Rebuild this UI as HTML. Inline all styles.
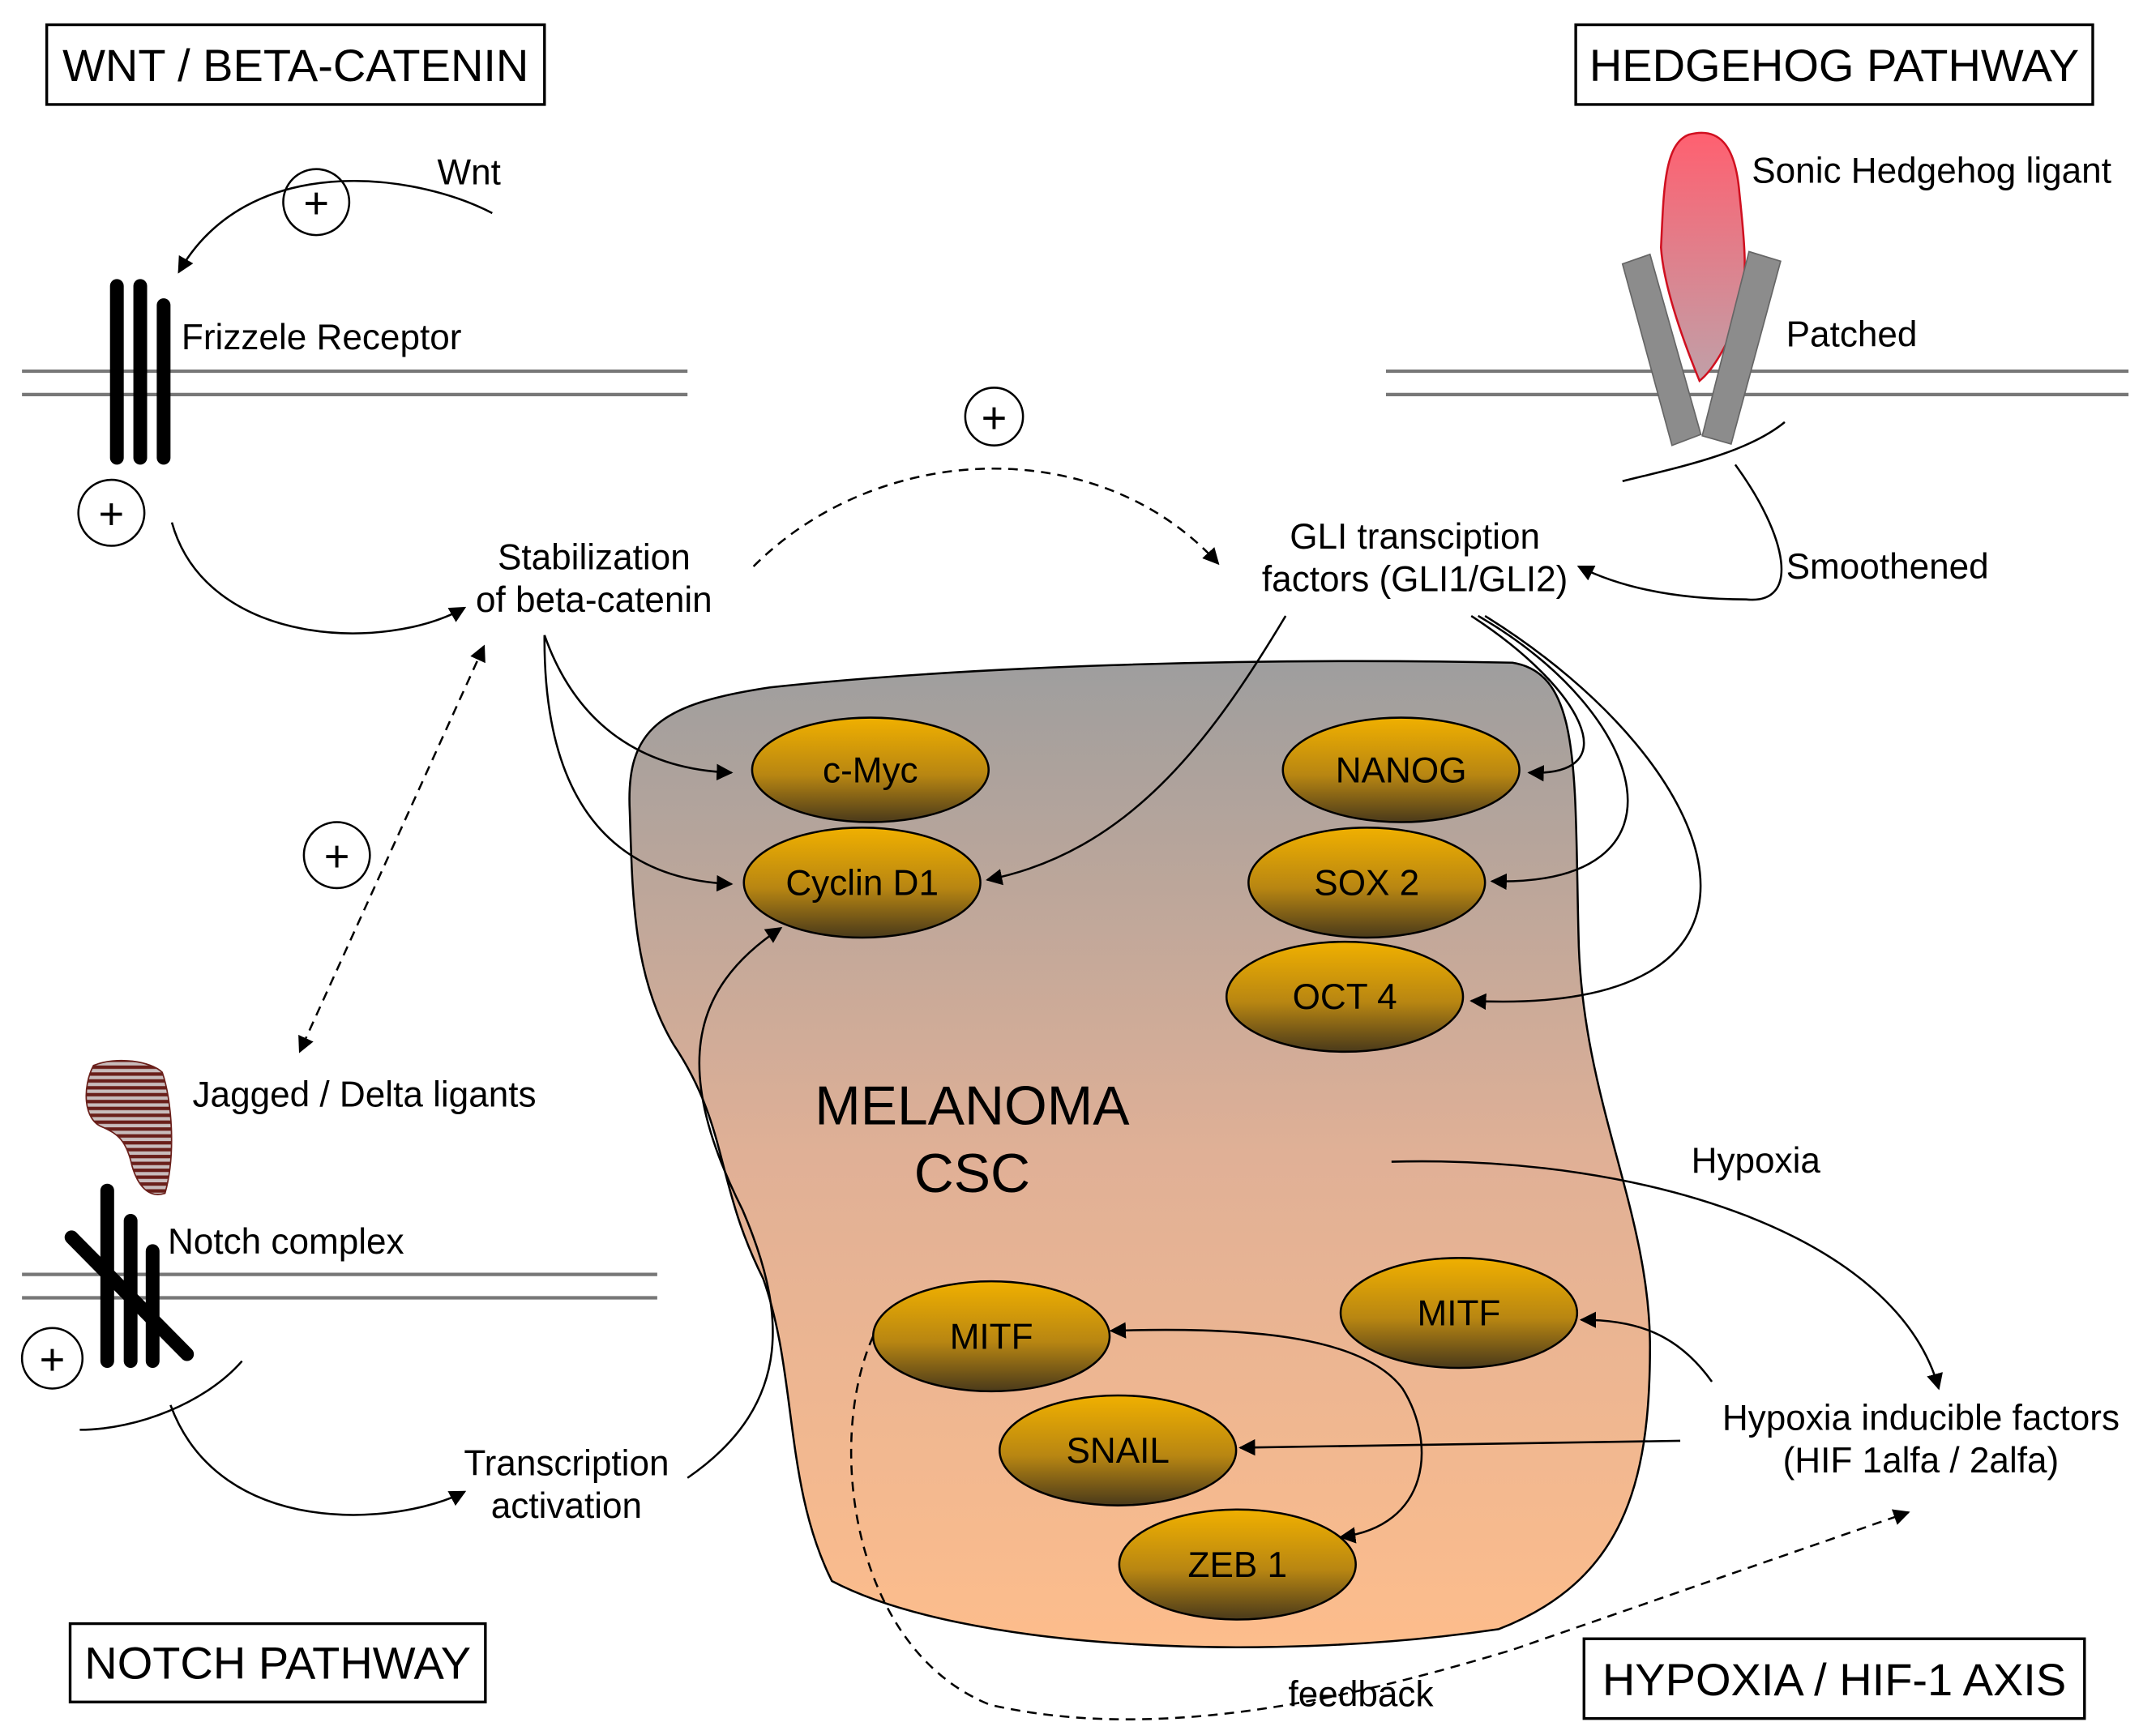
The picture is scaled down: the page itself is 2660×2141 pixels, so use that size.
<!DOCTYPE html>
<html><head><meta charset="utf-8"><style>html,body{margin:0;padding:0;background:#fff}svg{display:block}</style></head>
<body>
<svg width="2660" height="2141" viewBox="0 0 1568 1262" preserveAspectRatio="none" xmlns="http://www.w3.org/2000/svg" font-family="Liberation Sans, sans-serif">
<defs>
<linearGradient id="blob" x1="0" y1="0" x2="0" y2="1"><stop offset="0" stop-color="#9e9e9e"/><stop offset="0.5" stop-color="#e0b096"/><stop offset="1" stop-color="#fdbd8c"/></linearGradient>
<linearGradient id="ell" x1="0" y1="0" x2="0" y2="1"><stop offset="0" stop-color="#f0b000"/><stop offset="0.55" stop-color="#b88612"/><stop offset="1" stop-color="#4a3a1a"/></linearGradient>
<linearGradient id="shh" x1="0" y1="0" x2="0" y2="1"><stop offset="0" stop-color="#ff6070"/><stop offset="1" stop-color="#c0a0a8"/></linearGradient>
<pattern id="stripe" width="6" height="5" patternUnits="userSpaceOnUse"><rect width="6" height="5" fill="#c8bcbc"/><rect width="6" height="2.5" fill="#6a1f1a"/></pattern>
<marker id="ar" viewBox="0 0 10 10" refX="9" refY="5" markerWidth="12" markerHeight="12" markerUnits="userSpaceOnUse" orient="auto-start-reverse"><path d="M0,0 L10,5 L0,10 z" fill="#000"/></marker>
</defs>
<g fill="none" stroke="#000" stroke-width="2">
<rect x="34" y="18" width="362" height="58"/>
<rect x="1146" y="18" width="376" height="58"/>
<rect x="51" y="1181" width="302" height="57"/>
<rect x="1152" y="1192" width="364" height="58"/>
</g>
<g font-size="33" text-anchor="middle">
<text x="215" y="59">WNT / BETA-CATENIN</text>
<text x="1334" y="59">HEDGEHOG PATHWAY</text>
<text x="202" y="1221">NOTCH PATHWAY</text>
<text x="1334" y="1233">HYPOXIA / HIF-1 AXIS</text>
</g>
<g stroke="#777" stroke-width="2.5">
<line x1="16" y1="270" x2="500" y2="270"/><line x1="16" y1="287" x2="500" y2="287"/>
<line x1="1008" y1="270" x2="1548" y2="270"/><line x1="1008" y1="287" x2="1548" y2="287"/>
<line x1="16" y1="927" x2="478" y2="927"/><line x1="16" y1="944" x2="478" y2="944"/>
</g>
<path d="M458,590 C455,530 480,512 560,500 C700,485 900,478 1100,482 C1150,490 1145,560 1148,680 C1150,800 1200,880 1200,980 C1200,1080 1180,1150 1090,1185 C920,1210 700,1200 605,1150 C570,1080 580,1000 555,930 C520,860 530,820 490,760 C460,710 460,650 458,590 Z" fill="url(#blob)" stroke="#000" stroke-width="1.5"/>
<g stroke="#000" stroke-width="10" stroke-linecap="round">
<line x1="85" y1="208" x2="85" y2="333"/><line x1="102" y1="208" x2="102" y2="333"/><line x1="119" y1="222" x2="119" y2="333"/>
<line x1="78" y1="866" x2="78" y2="990"/><line x1="95" y1="888" x2="95" y2="990"/><line x1="111" y1="910" x2="111" y2="990"/>
<line x1="52" y1="900" x2="136" y2="985"/>
</g>
<path d="M68,775 C85,768 110,772 118,780 C125,800 128,840 120,868 C108,872 100,862 96,848 C92,830 86,825 75,820 C60,815 60,790 68,775 Z" fill="url(#stripe)" stroke="#6a1f1a" stroke-width="1"/>
<path d="M1228,98 C1250,92 1262,105 1265,140 C1268,170 1272,200 1265,225 C1258,250 1245,270 1236,277 C1225,250 1210,210 1208,180 C1210,140 1210,105 1228,98 Z" fill="url(#shh)" stroke="#d01020" stroke-width="1.5"/>
<g fill="#8c8c8c" stroke="#666" stroke-width="1">
<polygon points="1180,192 1200,185 1237,316 1216,324"/>
<polygon points="1272,183 1295,190 1259,323 1238,317"/>
</g>
<g fill="#fff" stroke="#000" stroke-width="1.5">
<circle cx="230" cy="147" r="24"/><circle cx="81" cy="373" r="24"/><circle cx="723" cy="303" r="21"/><circle cx="245" cy="622" r="24"/><circle cx="38" cy="988" r="22"/>
</g>
<g font-size="32" text-anchor="middle">
<text x="230" y="159">+</text><text x="81" y="385">+</text><text x="723" y="315">+</text><text x="245" y="634">+</text><text x="38" y="1000">+</text>
</g>
<g fill="none" stroke="#000" stroke-width="1.5">
<path d="M358,155 C300,125 180,110 130,198" marker-end="url(#ar)"/>
<path d="M125,380 C150,470 280,475 338,442" marker-end="url(#ar)"/>
<path d="M548,412 C640,320 800,315 886,410" stroke-dasharray="7,5" marker-end="url(#ar)"/>
<path d="M352,470 L218,765" stroke-dasharray="7,5" marker-end="url(#ar)" marker-start="url(#ar)"/>
<path d="M396,462 C420,530 470,560 532,562" marker-end="url(#ar)"/>
<path d="M396,462 C395,600 460,640 532,643" marker-end="url(#ar)"/>
<path d="M935,448 C880,540 820,620 718,640" marker-end="url(#ar)"/>
<path d="M1180,350 C1220,340 1270,330 1298,307"/>
<path d="M1262,338 C1300,390 1310,440 1270,436 C1220,436 1180,428 1148,412" marker-end="url(#ar)"/>
<path d="M1070,448 C1150,500 1185,565 1112,562" marker-end="url(#ar)"/>
<path d="M1075,448 C1200,520 1235,645 1085,641" marker-end="url(#ar)"/>
<path d="M1080,448 C1260,560 1320,740 1070,728" marker-end="url(#ar)"/>
<path d="M58,1040 C100,1040 150,1020 176,990"/>
<path d="M124,1022 C160,1120 290,1110 338,1085" marker-end="url(#ar)"/>
<path d="M500,1075 C580,1020 570,950 540,880 C490,780 500,720 568,675" marker-end="url(#ar)"/>
<path d="M1012,845 C1200,840 1380,900 1410,1010" marker-end="url(#ar)"/>
<path d="M1245,1005 C1220,970 1190,960 1150,960" marker-end="url(#ar)"/>
<path d="M1222,1048 L902,1053" marker-end="url(#ar)"/>
<path d="M975,1118 C1040,1110 1045,1050 1020,1010 C990,970 900,965 808,968" marker-end="url(#ar)" marker-start="url(#ar)"/>
<path d="M635,972 C600,1050 620,1200 720,1240 C850,1270 1000,1230 1100,1200 L1388,1100" stroke-dasharray="7,5" marker-end="url(#ar)"/>
</g>
<g stroke="#000" stroke-width="1.5" fill="url(#ell)">
<ellipse cx="633" cy="560" rx="86" ry="38"/><ellipse cx="627" cy="642" rx="86" ry="40"/>
<ellipse cx="1019" cy="560" rx="86" ry="38"/><ellipse cx="994" cy="642" rx="86" ry="40"/><ellipse cx="978" cy="725" rx="86" ry="40"/>
<ellipse cx="721" cy="972" rx="86" ry="40"/><ellipse cx="813" cy="1055" rx="86" ry="40"/><ellipse cx="900" cy="1138" rx="86" ry="40"/><ellipse cx="1061" cy="955" rx="86" ry="40"/>
</g>
<g font-size="26" text-anchor="middle">
<text x="633" y="569">c-Myc</text><text x="627" y="651">Cyclin D1</text>
<text x="1019" y="569">NANOG</text><text x="994" y="651">SOX 2</text><text x="978" y="734">OCT 4</text>
<text x="721" y="981">MITF</text><text x="813" y="1064">SNAIL</text><text x="900" y="1147">ZEB 1</text><text x="1061" y="964">MITF</text>
</g>
<g font-size="26" text-anchor="middle">
<text x="432" y="414">Stabilization</text><text x="432" y="445">of beta-catenin</text>
<text x="1029" y="399">GLI transciption</text><text x="1029" y="430">factors (GLI1/GLI2)</text>
<text x="412" y="1073">Transcription</text><text x="412" y="1104">activation</text>
<text x="1397" y="1040">Hypoxia inducible factors</text><text x="1397" y="1071">(HIF 1alfa / 2alfa)</text>
</g>
<g font-size="26">
<text x="318" y="134">Wnt</text>
<text x="132" y="254">Frizzele Receptor</text>
<text x="1274" y="133">Sonic Hedgehog ligant</text>
<text x="1299" y="252">Patched</text>
<text x="1299" y="421">Smoothened</text>
<text x="140" y="805">Jagged / Delta ligants</text>
<text x="122" y="912">Notch complex</text>
<text x="1230" y="853">Hypoxia</text>
<text x="937" y="1241">feedback</text>
</g>
<g font-size="40" text-anchor="middle">
<text x="707" y="818">MELANOMA</text><text x="707" y="867">CSC</text>
</g>
</svg>
</body></html>
